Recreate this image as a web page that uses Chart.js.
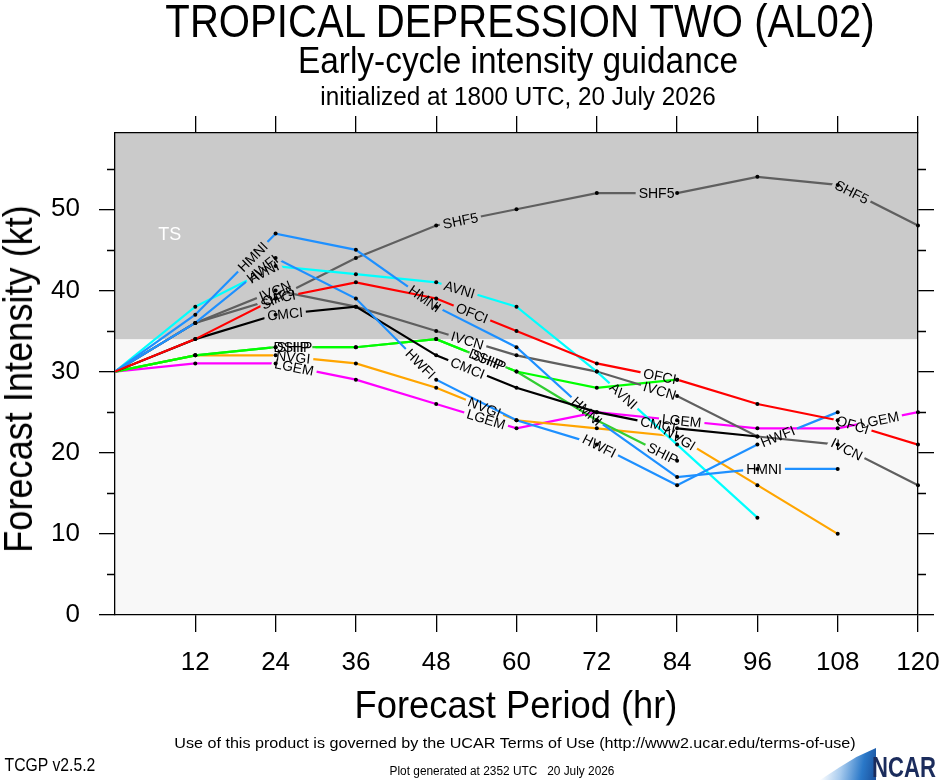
<!DOCTYPE html>
<html>
<head>
<meta charset="utf-8">
<script src="https://cdn.jsdelivr.net/npm/chart.js@4.4.1/dist/chart.umd.min.js"></script>
<style>
html, body { margin: 0; padding: 0; background: #fff; }
#wrap { position: relative; width: 940px; height: 780px; overflow: hidden; font-family: 'Liberation Sans', Arial, sans-serif; color: #000; }
#wrap canvas { position: absolute; left: 0; top: 0; }
.t { position: absolute; white-space: pre; line-height: 1; }
.logo { position: absolute; left: 820px; top: 748px; width: 56px; height: 32px;
        background: linear-gradient(100deg, rgba(255,255,255,0) 8%, #a8cbee 40%, #2a78c8 75%, #1a4f9a 100%);
        clip-path: polygon(0% 100%, 35% 60%, 65% 28%, 100% 0%, 100% 100%); }
</style>
</head>
<body>
<div id="wrap">
    <canvas id="c" width="940" height="780"></canvas>
    <div class="t" data-w="710" style="left:520px;top:20px;font-size:47px">TROPICAL DEPRESSION TWO (AL02)</div>
    <div class="t" data-w="440" style="left:518px;top:61px;font-size:36px">Early-cycle intensity guidance</div>
    <div class="t" data-w="395" style="left:518px;top:96px;font-size:25px">initialized at 1800 UTC, 20 July 2026</div>
    <div class="t" data-w="348" data-rot="1" style="left:18px;top:379px;font-size:40px">Forecast Intensity (kt)</div>
    <div class="t" data-w="323" style="left:516px;top:704px;font-size:39px">Forecast Period (hr)</div>
    <div class="t" data-w="681" style="left:515px;top:742px;font-size:15px">Use of this product is governed by the UCAR Terms of Use (http://www2.ucar.edu/terms-of-use)</div>
    <div class="t" data-w="91" style="left:50px;top:765px;font-size:18px">TCGP v2.5.2</div>
    <div class="t" data-w="225" style="left:502px;top:771px;font-size:12.5px">Plot generated at 2352 UTC   20 July 2026</div>
    <div class="logo"></div>
    <div class="t" data-w="64" style="left:904px;top:767px;font-size:29px;font-weight:bold;color:#1b2c5c">NCAR</div>
</div>
<script>
// forecast hours and model intensities (kt)
const HOURS = [0, 12, 24, 36, 48, 60, 72, 84, 96, 108, 120];
const OFCI = [30, 34, 39, 41, 39, 35, 31, 29, 26, 24, 21];
const HMNI = [30, 37, 47, 45, 38, 33, 24, 17, 18, 18];
const HWFI = [30, 36, 44, 39, 29, 24, 21, 16, 21, 25];
const AVNI = [30, 38, 43, 42, 41, 38, 30, 21, 12];
const CMCI = [30, 34, 37, 38, 32, 28, 25, 23, 22];
const IVCN = [30, 36, 40, 38, 35, 32, 30, 27, 22, 21, 16];
const SHF5 = [30, 36, 39, 44, 48, 50, 52, 52, 54, 53, 48];
const DSHP = [30, 32, 33, 33, 34, 30, 28, 29];
const SHIP = [30, 32, 33, 33, 34, 30, 24, 19];
const NVGI = [30, 32, 32, 31, 28, 24, 23, 22, 16, 10];
const LGEM = [30, 31, 31, 29, 26, 23, 25, 24, 23, 23, 25];

const MODELS = ['OFCI', 'HMNI', 'HWFI', 'AVNI', 'CMCI', 'IVCN', 'SHF5', 'DSHP', 'SHIP', 'NVGI', 'LGEM'];
const SERIES = { OFCI, HMNI, HWFI, AVNI, CMCI, IVCN, SHF5, DSHP, SHIP, NVGI, LGEM };
const COLORS = {
    OFCI: '#ff0000', HMNI: '#1e90ff', HWFI: '#1e90ff', AVNI: '#00ffff', CMCI: '#000000',
    IVCN: '#5f5f5f', SHF5: '#5f5f5f', DSHP: '#00ff00', SHIP: '#32cd32', NVGI: '#ffa500', LGEM: '#ff00ff'
};
const TS_THRESHOLD = 34;
const Y_MAX = 59.4;

const FONT = "'Liberation Sans', Arial, sans-serif";
const LABEL_FONT = '14px ' + FONT;
const LABEL_START = 180, LABEL_STEP = 199;

// labels sit along each line every LABEL_STEP px of arc length
const lineLabels = (ctx, meta, name) => {
    const pts = meta.data;
    ctx.save();
    ctx.font = LABEL_FONT;
    const w = ctx.measureText(name).width;
    ctx.restore();
    const out = [];
    let acc = 0, target = LABEL_START;
    for (let i = 0; i < pts.length - 1; i++) {
        const a = pts[i], b = pts[i + 1];
        const len = Math.hypot(b.x - a.x, b.y - a.y);
        while (target <= acc + len) {
            const t = (target - acc) / len;
            out.push({ x: a.x + (b.x - a.x) * t, y: a.y + (b.y - a.y) * t, ang: Math.atan2(b.y - a.y, b.x - a.x), w });
            target += LABEL_STEP;
        }
        acc += len;
    }
    return out;
};

const rectPath = (ctx, l, pw, ph) => {
    const c = Math.cos(l.ang), s = Math.sin(l.ang);
    const hw = (l.w + pw) / 2, hh = ph / 2;
    const corners = [[-hw, -hh], [hw, -hh], [hw, hh], [-hw, hh]];
    corners.forEach(([u, v], k) => {
        const px = l.x + u * c - v * s, py = l.y + u * s + v * c;
        k ? ctx.lineTo(px, py) : ctx.moveTo(px, py);
    });
    ctx.closePath();
};

const plotDecor = {
    id: 'plotDecor',
    beforeDraw(chart) {
        const { ctx, chartArea: a, scales } = chart;
        const yTs = scales.y.getPixelForValue(TS_THRESHOLD);
        ctx.save();
        ctx.fillStyle = '#f8f8f8';
        ctx.fillRect(a.left, yTs, a.right - a.left, a.bottom - yTs);
        ctx.fillStyle = '#cacaca';
        ctx.fillRect(a.left, a.top, a.right - a.left, yTs - a.top);
        ctx.fillStyle = '#ffffff';
        ctx.font = '18px ' + FONT;
        ctx.textAlign = 'center';
        ctx.textBaseline = 'middle';
        ctx.fillText('TS', scales.x.getPixelForValue(8.2), scales.y.getPixelForValue(46.8));
        ctx.restore();
    },
    beforeDatasetDraw(chart, args) {
        const { ctx } = chart;
        const meta = args.meta;
        const name = chart.data.datasets[args.index].label;
        meta._lbl = lineLabels(ctx, meta, name);
        ctx.save();
        ctx.beginPath();
        ctx.rect(0, 0, chart.width, chart.height);
        meta._lbl.forEach(l => rectPath(ctx, l, 6, 12));
        ctx.clip('evenodd');
    },
    afterDatasetDraw(chart) {
        chart.ctx.restore();
    },
    afterDatasetsDraw(chart) {
        const { ctx } = chart;
        ctx.save();
        ctx.fillStyle = '#000';
        chart.data.datasets.forEach((ds, i) => {
            chart.getDatasetMeta(i).data.forEach((p, k) => {
                if (k === 0) return;
                ctx.beginPath();
                ctx.arc(p.x, p.y, 2, 0, Math.PI * 2);
                ctx.fill();
            });
        });
        ctx.font = LABEL_FONT;
        ctx.textAlign = 'center';
        ctx.textBaseline = 'middle';
        chart.data.datasets.forEach((ds, i) => {
            (chart.getDatasetMeta(i)._lbl || []).forEach(l => {
                ctx.save();
                ctx.translate(l.x, l.y);
                ctx.rotate(l.ang);
                ctx.fillText(ds.label, 0, 1);
                ctx.restore();
            });
        });
        ctx.restore();
    },
    afterDraw(chart) {
        // minor ticks every 5 kt on both sides
        const { ctx, chartArea: a, scales } = chart;
        ctx.save();
        ctx.strokeStyle = '#000';
        ctx.lineWidth = 1.3;
        for (let v = 5; v < Y_MAX; v += 10) {
            const y = Math.round(scales.y.getPixelForValue(v)) + 0.5;
            ctx.beginPath();
            ctx.moveTo(a.left - 8, y); ctx.lineTo(a.left, y);
            ctx.moveTo(a.right, y); ctx.lineTo(a.right + 8, y);
            ctx.stroke();
        }
        ctx.restore();
    }
};

Chart.defaults.font.family = FONT;
Chart.defaults.color = '#000';

const tickColor = c => (c.tick && c.tick.value === 0) ? 'rgba(0,0,0,0)' : '#000';
const xAxis = (pos, h, labels) => ({
    type: 'linear', position: pos, min: 0, max: 120,
    ticks: { stepSize: 12, autoSkip: false, maxRotation: 0, padding: 15, font: { size: 26 },
             callback: v => (labels && v !== 0) ? v : '' },
    grid: { drawOnChartArea: false, tickLength: 17, lineWidth: 1.3, color: tickColor },
    border: { color: '#000', width: 1.3 },
    afterFit: s => { s.height = h; s.paddingLeft = 0; s.paddingRight = 0; }
});
const yAxis = (pos, w, labels) => ({
    type: 'linear', position: pos, min: 0, max: Y_MAX,
    ticks: { stepSize: 10, includeBounds: false, padding: 19, font: { size: 26 },
             callback: v => labels ? v : '' },
    grid: { drawOnChartArea: false, tickLength: 16, lineWidth: 1.3, color: '#000' },
    border: { color: '#000', width: 1.3 },
    afterFit: s => { s.width = w; s.paddingTop = 0; s.paddingBottom = 0; }
});

new Chart(document.getElementById('c'), {
    type: 'line',
    data: {
        datasets: MODELS.map(name => ({
            label: name,
            data: SERIES[name].map((v, i) => ({ x: HOURS[i], y: v })),
            borderColor: COLORS[name],
            borderWidth: 2.2,
            pointRadius: 0,
            tension: 0,
            fill: false
        }))
    },
    options: {
        responsive: false,
        animation: false,
        events: [],
        layout: { padding: 0 },
        plugins: { legend: { display: false }, tooltip: { enabled: false } },
        scales: {
            x: xAxis('bottom', 165, true),
            x2: xAxis('top', 133, false),
            y: yAxis('left', 115, true),
            y2: yAxis('right', 22, false)
        }
    },
    plugins: [plotDecor]
});

// squeeze the headline texts to the widths of the original
document.querySelectorAll('.t').forEach(el => {
    const k = (+el.dataset.w) / el.offsetWidth;
    el.style.transform = 'translate(-50%,-50%)' + (el.dataset.rot ? ' rotate(-90deg)' : '') + ' scaleX(' + k.toFixed(3) + ')';
});
</script>
</body>
</html>
